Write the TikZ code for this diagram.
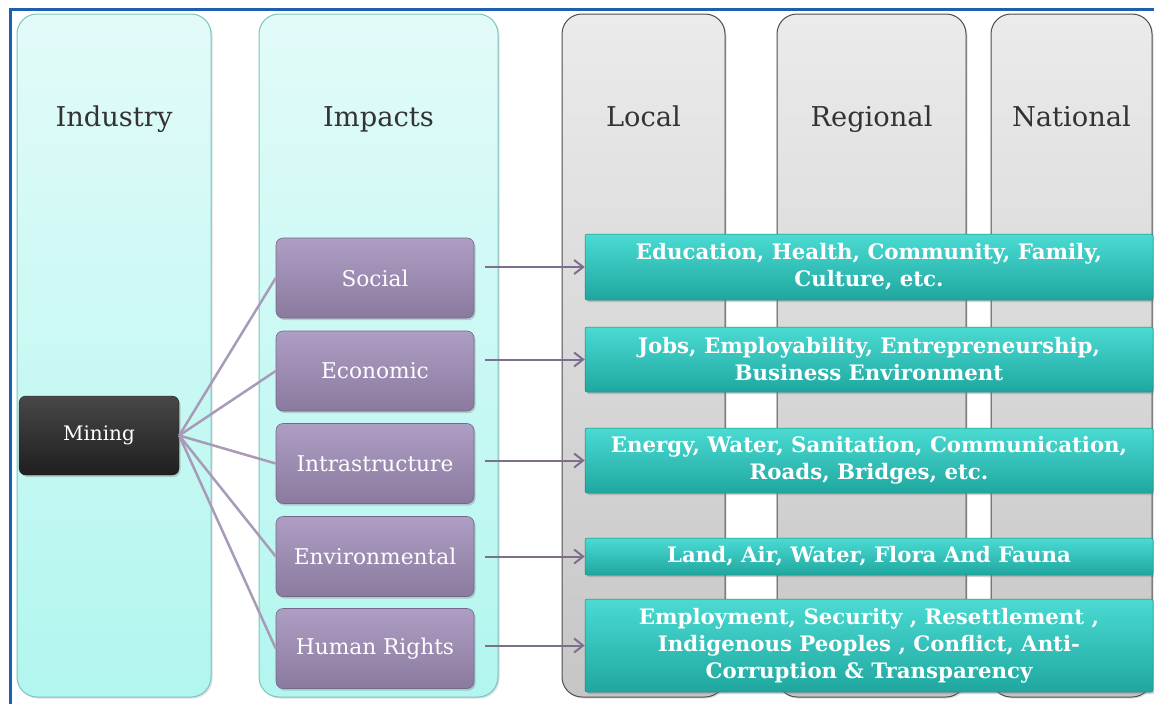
\documentclass[tikz,border=0pt]{standalone}
\usepackage{fontspec}
\setmainfont{DejaVu Serif}
\usetikzlibrary{shadows,arrows.meta}
\definecolor{frameblue}{HTML}{1F5FAF}
\definecolor{cyantop}{HTML}{E2FBF9}
\definecolor{cyanbot}{HTML}{B2F6EF}
\definecolor{cyanline}{HTML}{7CC4BD}
\definecolor{graytop}{HTML}{EBEBEB}
\definecolor{graybot}{HTML}{C6C6C6}
\definecolor{grayline}{HTML}{4D4D4D}
\definecolor{purtop}{HTML}{AE9EC4}
\definecolor{purbot}{HTML}{8A7A9E}
\definecolor{purline}{HTML}{76688A}
\definecolor{tealtop}{HTML}{4ADBD3}
\definecolor{tealbot}{HTML}{1FA79F}
\definecolor{connline}{HTML}{A99BB8}
\definecolor{arrline}{HTML}{7E6E8E}
\definecolor{headtext}{HTML}{333333}
\tikzset{
  colbase/.style={rounded corners=20pt, inner sep=0pt,
    drop shadow={shadow xshift=1.5pt, shadow yshift=-1.5pt, opacity=0.25}},
  cyancol/.style={colbase, draw=cyanline, line width=1pt, top color=cyantop, bottom color=cyanbot},
  graycol/.style={colbase, draw=grayline, line width=1pt, top color=graytop, bottom color=graybot},
  header/.style={font=\fontsize{27.3}{30}\selectfont, text=headtext, anchor=base},
  minebox/.style={rounded corners=7pt, minimum width=160pt, minimum height=79pt,
    top color=black!72, bottom color=black!88, draw=black!90, text=white,
    font=\fontsize{20}{24}\selectfont,
    drop shadow={shadow xshift=1.5pt, shadow yshift=-2pt, opacity=0.35}},
  impbox/.style={rounded corners=7pt, minimum width=198pt, minimum height=80pt,
    top color=purtop, bottom color=purbot, draw=purline, line width=0.6pt, text=white,
    font=\fontsize{21.7}{26}\selectfont,
    drop shadow={shadow xshift=1.5pt, shadow yshift=-2pt, opacity=0.35}},
  tealbox/.style={rounded corners=2pt, minimum width=568pt, inner sep=0pt,
    top color=tealtop, bottom color=tealbot, draw=tealbot!80!black, line width=0.5pt,
    text=white, align=center, font=\fontsize{21.3}{27}\bfseries\selectfont,
    drop shadow={shadow xshift=2pt, shadow yshift=-2pt, opacity=0.35}},
  conn/.style={draw=connline, line width=2.5pt},
  arr/.style={draw=arrline, line width=2pt, -{Straight Barb[length=9pt,width=14pt,line width=2pt]}}
}
\begin{document}
\begin{tikzpicture}[x=1pt,y=-1pt]
\useasboundingbox[fill=white] (0,0) rectangle (1154,704);
% frame
\draw[frameblue, line width=2.2pt] (10.5,704) -- (10.5,9.5) -- (1154,9.5);
% columns
\node[cyancol, minimum width=194pt, minimum height=683pt] (colind) at (114,355.5) {};
\node[cyancol, minimum width=239pt, minimum height=683pt] (colimp) at (378.5,355.5) {};
\node[graycol, minimum width=163pt, minimum height=683pt] (colloc) at (643.5,355.5) {};
\node[graycol, minimum width=189pt, minimum height=683pt] (colreg) at (871.5,355.5) {};
\node[graycol, minimum width=161pt, minimum height=683pt] (colnat) at (1071.5,355.5) {};
% headers
\node[header] (hind) at (114,126) {Industry};
\node[header] (himp) at (378.5,126) {Impacts};
\node[header] (hloc) at (643.5,126) {Local};
\node[header] (hreg) at (871.5,126) {Regional};
\node[header] (hnat) at (1071.5,126) {National};
% mining
\node[minebox] (mining) at (99,435.5) {Mining};
% impact boxes
\node[impbox] (soc) at (375,278) {Social};
\node[impbox] (eco) at (375,371) {Economic};
\node[impbox] (inf) at (375,463.5) {Intrastructure};
\node[impbox] (env) at (375,556.5) {Environmental};
\node[impbox] (hum) at (375,648.5) {Human Rights};
% teal boxes
\node[tealbox, minimum height=66pt] (edu) at (869,267) {Education, Health, Community, Family,\\Culture, etc.};
\node[tealbox, minimum height=65pt] (job) at (869,359.5) {Jobs, Employability, Entrepreneurship,\\Business Environment};
\node[tealbox, minimum height=65pt] (ene) at (869,460.5) {Energy, Water, Sanitation, Communication,\\Roads, Bridges, etc.};
\node[tealbox, minimum height=37pt] (lan) at (869,556.5) {Land, Air, Water, Flora And Fauna};
\node[tealbox, minimum height=93pt] (emp) at (869,645.5) {Employment, Security , Resettlement ,\\Indigenous Peoples , Conflict, Anti-\\Corruption \& Transparency};
% connectors from mining
\foreach \t in {soc,eco,inf,env,hum}{
  \draw[conn] (mining.east) -- (\t.west);
}
% arrows
\draw[arr, shorten <=11pt] (soc.east |- edu.west) -- (edu.west);
\draw[arr, shorten <=11pt] (eco.east |- job.west) -- (job.west);
\draw[arr, shorten <=11pt] (inf.east |- ene.west) -- (ene.west);
\draw[arr, shorten <=11pt] (env.east |- lan.west) -- (lan.west);
\draw[arr, shorten <=11pt] (hum.east |- emp.west) -- (emp.west);
\end{tikzpicture}
\end{document}
